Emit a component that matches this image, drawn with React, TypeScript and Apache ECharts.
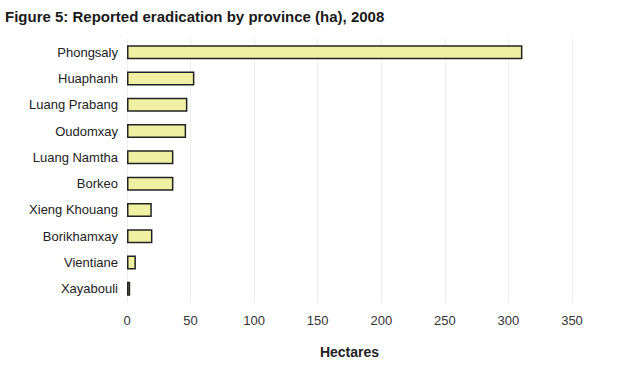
import React, { useEffect, useRef } from "react";
import * as echarts from "echarts";

const provinces = [
  "Phongsaly",
  "Huaphanh",
  "Luang Prabang",
  "Oudomxay",
  "Luang Namtha",
  "Borkeo",
  "Xieng Khouang",
  "Borikhamxay",
  "Vientiane",
  "Xayabouli",
];
const hectares = [311, 53, 47.5, 46.5, 36.5, 36.5, 19.5, 20, 7, 2.5];
const titleText = "Figure 5: Reported eradication by province (ha), 2008";
const axisName = "Hectares";

const FONT = "Liberation Sans";

export default function App() {
  const ref = useRef<HTMLDivElement>(null);
  useEffect(() => {
    if (!ref.current) return;
    const chart = echarts.init(ref.current, undefined, { renderer: "svg" });
    chart.setOption({
      animation: false,
      backgroundColor: "#ffffff",
      title: {
        text: titleText,
        left: 5,
        top: 9,
        padding: 0,
        textStyle: {
          fontFamily: FONT,
          fontSize: 15,
          fontWeight: "bold",
          color: "#1a1a1a",
        },
      },
      grid: { left: 127, right: 68, top: 39, bottom: 68, containLabel: false },
      xAxis: {
        type: "value",
        min: 0,
        max: 350,
        interval: 50,
        name: axisName,
        nameLocation: "middle",
        nameGap: 43,
        nameTextStyle: {
          fontFamily: FONT,
          fontSize: 14,
          fontWeight: "bold",
          color: "#222",
        },
        axisLine: { show: false },
        axisTick: { show: false },
        axisLabel: {
          margin: 12,
          fontFamily: FONT,
          fontSize: 13,
          color: "#333",
        },
        splitLine: { show: true, lineStyle: { color: "#eeeeee", width: 1 } },
      },
      yAxis: {
        type: "category",
        data: provinces,
        inverse: true,
        axisLine: { show: false },
        axisTick: { show: false },
        axisLabel: {
          margin: 9,
          fontFamily: FONT,
          fontSize: 13,
          color: "#222",
        },
        splitLine: { show: false },
      },
      series: [
        {
          type: "bar",
          data: hectares,
          barWidth: 14,
          itemStyle: {
            color: "#f0f0a2",
            borderColor: "#222222",
            borderWidth: 1.5,
          },
        },
      ],
    });
    return () => chart.dispose();
  }, []);
  return (
    <div
      ref={ref}
      style={{ position: "absolute", left: 0, top: 0, width: 640, height: 370 }}
    />
  );
}
